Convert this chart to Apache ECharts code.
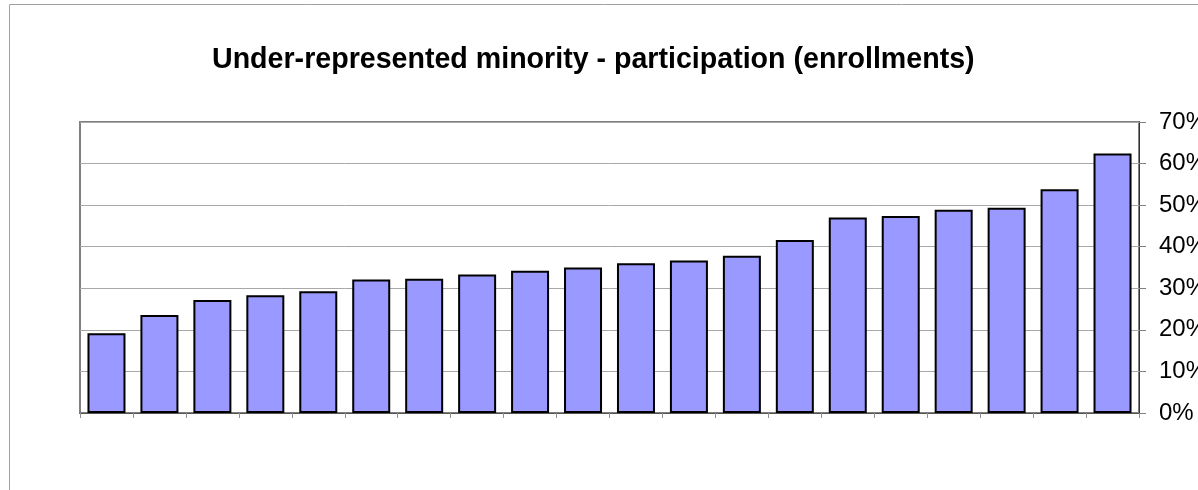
<!DOCTYPE html>
<html>
<head>
<meta charset="utf-8">
<script src="https://cdn.jsdelivr.net/npm/echarts@6/dist/echarts.min.js"></script>
<style>
  html, body { margin: 0; padding: 0; background: #fff; }
  #chart { width: 1198px; height: 490px; }
</style>
</head>
<body>
<div id="chart"></div>
<script>
// 20 schools, no names shown on the axis
var categories = ['1', '2', '3', '4', '5', '6', '7', '8', '9', '10',
                  '11', '12', '13', '14', '15', '16', '17', '18', '19', '20'];
// share of under-represented minority enrollments (fraction)
var participation = [0.192, 0.236, 0.272, 0.283, 0.293, 0.321, 0.323, 0.333, 0.342, 0.350,
                     0.360, 0.367, 0.378, 0.416, 0.470, 0.474, 0.489, 0.494, 0.538, 0.624];
var yTicks = [0, 0.1, 0.2, 0.3, 0.4, 0.5, 0.6, 0.7];

var chart = echarts.init(document.getElementById('chart'));
chart.setOption({
    animation: false,
    backgroundColor: '#fff',
    textStyle: { fontFamily: 'Liberation Sans, Arial, sans-serif' },
    title: {
        text: 'Under-represented minority - participation (enrollments)',
        left: 207,
        top: 41,
        textStyle: { fontSize: 28.6, fontWeight: 'bold', color: '#000' }
    },
    graphic: [{
        type: 'rect',
        shape: { x: 9.5, y: 4.5, width: 1300, height: 600 },
        style: { fill: 'none', stroke: '#a0a0a0', lineWidth: 1 },
        silent: true
    }],
    grid: {
        left: 80, top: 122, right: 59, bottom: 77,
        outerBoundsMode: 'none',
        containLabel: false,
        show: true,
        borderColor: '#808080',
        borderWidth: 2,
        backgroundColor: '#fff'
    },
    xAxis: {
        type: 'category',
        data: categories,
        axisLine: { lineStyle: { color: '#555', width: 1 } },
        axisTick: { show: true, length: 5, lineStyle: { color: '#909090' } },
        axisLabel: { show: false },
        splitLine: { show: false }
    },
    yAxis: {
        type: 'value',
        position: 'right',
        min: yTicks[0],
        max: yTicks[yTicks.length - 1],
        interval: 0.1,
        axisLine: { show: true, lineStyle: { color: '#333', width: 1 } },
        axisTick: { show: true, length: 7, lineStyle: { color: '#808080' } },
        axisLabel: {
            margin: 20,
            fontSize: 24,
            color: '#000',
            formatter: function (v) { return Math.round(v * 100) + '%'; }
        },
        splitLine: { lineStyle: { color: '#a8a8a8', width: 1 } }
    },
    series: [{
        type: 'bar',
        data: participation,
        barWidth: 38,
        itemStyle: { color: '#9999ff', borderColor: '#000', borderWidth: 2 }
    }]
});
</script>
</body>
</html>
